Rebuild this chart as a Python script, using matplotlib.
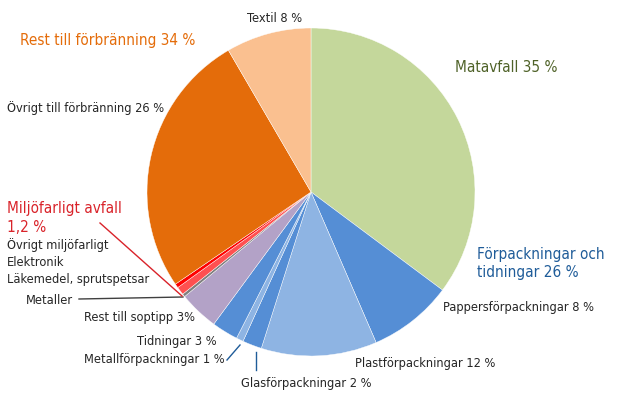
import matplotlib
matplotlib.use("Agg")
import matplotlib.pyplot as plt
from matplotlib import font_manager as fm

# Data (clockwise from 12 o'clock)
categories = ["Matavfall", "Pappersförpackningar", "Plastförpackningar", "Glasförpackningar",
              "Metallförpackningar", "Tidningar", "Rest till soptipp", "Metaller",
              "Miljöfarligt (övrigt/elektronik)", "Läkemedel, sprutspetsar",
              "Övrigt till förbränning", "Textil"]
values = [35.2, 8.3, 11.4, 1.9, 0.7, 2.6, 3.9, 0.3, 0.8, 0.4, 26.1, 8.4]
colors = ["#c4d79b", "#558ed5", "#8eb4e3", "#558ed5", "#8eb4e3", "#558ed5", "#b3a2c7",
          "#7f7f7f", "#ff5050", "#ff0000", "#e46c0a", "#fac090"]

W, H = 620, 399
fig = plt.figure(figsize=(W / 100, H / 100), dpi=100)
ax = fig.add_axes([0, 0, 1, 1])

cx, cy, r = 311, H - 192, 164
ax.pie(values, colors=colors, startangle=90, counterclock=False, center=(cx, cy),
       radius=r, wedgeprops=dict(edgecolor="white", linewidth=0.3), frame=True)
ax.set_xlim(0, W)
ax.set_ylim(0, H)
ax.set_aspect("equal")
ax.axis("off")

stretches = {(f.name, f.stretch) for f in fm.fontManager.ttflist}
cond = any(n == "DejaVu Sans" and s == "condensed" for n, s in stretches)
FONT = ["DejaVu Sans"]
STRETCH = "condensed" if cond else "normal"
SCALE = 1.0 if cond else 0.9
dark = "#262626"
BIG = 11
SMALL = 9.2

def txt(x, y, s, size=SMALL, color=dark, ha="left"):
    ax.text(x, H - y, s, fontsize=size * SCALE, color=color, ha=ha, va="center",
            family=FONT, fontstretch=STRETCH)

txt(275, 18, "Textil 8 %", ha="center")
txt(20, 40, "Rest till förbränning 34 %", size=BIG, color="#e46c0a")
txt(7, 108, "Övrigt till förbränning 26 %")
txt(455, 68, "Matavfall 35 %", size=BIG, color="#4f6228")
txt(477, 255, "Förpackningar och", size=BIG, color="#1f5c99")
txt(477, 273, "tidningar 26 %", size=BIG, color="#1f5c99")
txt(443, 307, "Pappersförpackningar 8 %")
txt(355, 363, "Plastförpackningar 12 %")
txt(241, 383, "Glasförpackningar 2 %")
txt(84, 359, "Metallförpackningar 1 %")
txt(137, 341, "Tidningar 3 %")
txt(84, 318, "Rest till soptipp 3%")
txt(26, 301, "Metaller")
txt(7, 209, "Miljöfarligt avfall", size=BIG, color="#d9232a")
txt(7, 227, "1,2 %", size=BIG, color="#d9232a")
txt(7, 245, "Övrigt miljöfarligt")
txt(7, 262, "Elektronik")
txt(7, 279, "Läkemedel, sprutspetsar")

# leader lines
ax.plot([79, 183], [H - 299, H - 297], color="#404040", lw=1)
ax.plot([100, 182], [H - 223, H - 296], color="#d9232a", lw=1)
ax.plot([227, 240], [H - 360, H - 345], color="#1f5c99", lw=1)
ax.plot([256, 256], [H - 352, H - 370], color="#1f5c99", lw=1)

fig.savefig("out.png", dpi=100)
